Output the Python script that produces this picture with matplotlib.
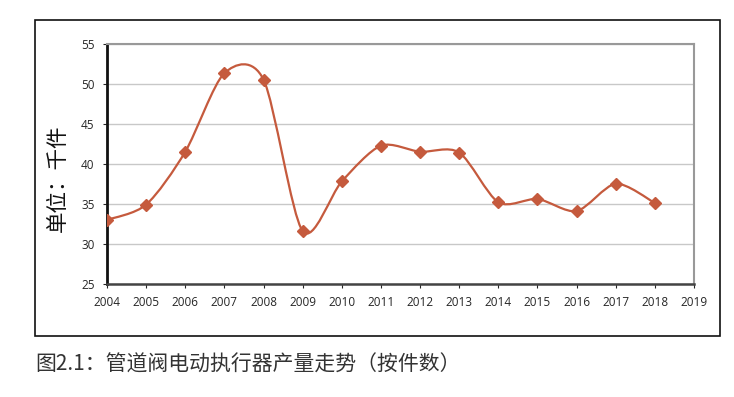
import numpy as np
import matplotlib.pyplot as plt
from matplotlib.path import Path
from matplotlib.patches import PathPatch, Rectangle

plt.rcParams['font.family'] = ['Noto Sans CJK SC', 'DejaVu Sans']

years = [2004, 2005, 2006, 2007, 2008, 2009, 2010, 2011,
         2012, 2013, 2014, 2015, 2016, 2017, 2018]
output = [33.0, 34.9, 41.5, 51.3, 50.5, 31.6, 37.8, 42.25,
          41.5, 41.4, 35.2, 35.6, 34.1, 37.5, 35.1]
xticks = list(range(2004, 2020))
yticks = [25, 30, 35, 40, 45, 50, 55]

line_color = "#c55a3d"

fig = plt.figure(figsize=(7.34, 3.97), dpi=100)
ax = fig.add_axes([107 / 734, 1 - 284 / 397, (694 - 107) / 734, (284 - 43.5) / 397])

# outer frame around the chart
fig.patches.append(Rectangle((35 / 734, 1 - 336 / 397), 685 / 734, 316 / 397,
                             transform=fig.transFigure, fill=False,
                             edgecolor="#111111", linewidth=1.2))

# smooth curve like Excel: cubic bezier through the points
x = np.array(years, dtype=float)
y = np.array(output, dtype=float)
pts = np.column_stack([x, y])
verts = [pts[0]]
codes = [Path.MOVETO]
n = len(pts)
k = 0.14
for i in range(n - 1):
    p0 = pts[max(i - 1, 0)]
    p1 = pts[i]
    p2 = pts[i + 1]
    p3 = pts[min(i + 2, n - 1)]
    c1 = p1 + (p2 - p0) * k
    c2 = p2 - (p3 - p1) * k
    verts += [c1, c2, p2]
    codes += [Path.CURVE4] * 3
ax.add_patch(PathPatch(Path(verts, codes), fill=False, edgecolor=line_color,
                       linewidth=1.6, zorder=3))

ax.plot(years, output, linestyle="none", marker="D", markersize=6.5,
        color=line_color, zorder=4)

ax.set_xlim(2004, 2019)
ax.set_ylim(25, 55)
ax.set_xticks(xticks)
ax.set_yticks(yticks)
ax.tick_params(axis="both", labelsize=8.5, colors="#262626", length=3,
               width=0.8, direction="out", pad=6)
for lbl in ax.get_xticklabels() + ax.get_yticklabels():
    lbl.set_family(["Open Sans", "DejaVu Sans"])
ax.grid(axis="y", color="#c8c8c8", linewidth=1)
ax.set_axisbelow(True)

ax.spines["left"].set_color("#111111")
ax.spines["left"].set_linewidth(2)
ax.spines["bottom"].set_color("#444444")
ax.spines["bottom"].set_linewidth(1.8)
ax.spines["top"].set_color("#999999")
ax.spines["top"].set_linewidth(1.5)
ax.spines["right"].set_color("#999999")
ax.spines["right"].set_linewidth(1.5)

fig.text(58 / 734, 1 - 178 / 397, "单位：千件", rotation=90, fontsize=15.5,
         color="#111111", ha="center", va="center")

fig.text(35 / 734, 1 - 365 / 397, "图2.1：管道阀电动执行器产量走势（按件数）",
         fontsize=15, color="#333333", ha="left", va="center")

fig.savefig("out.png", dpi=100)
